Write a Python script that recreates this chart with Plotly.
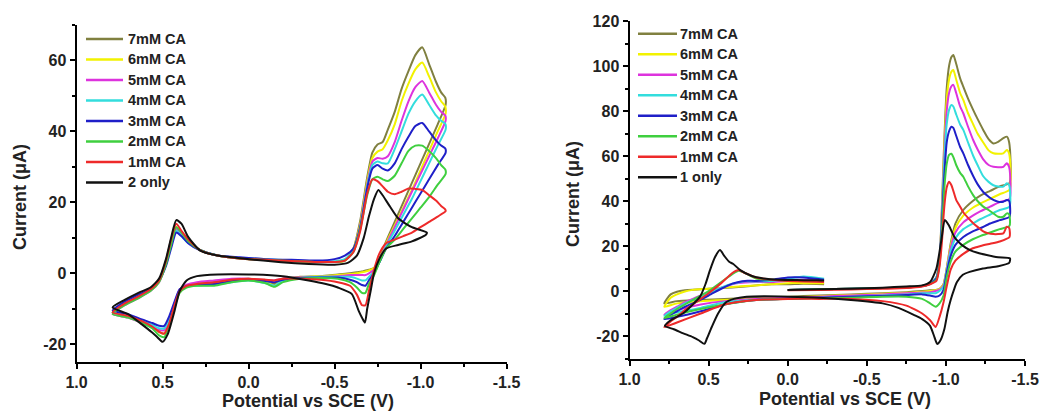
import plotly.graph_objects as go

# ---------------- Left panel: complex 2 with added CA ----------------
# Shared potential grid (V vs SCE) for the CA scans: forward sweep, then return sweep
LEFT_CA_E = [0.79, 0.72, 0.64, 0.57, 0.52, 0.48, 0.45, 0.42, 0.39, 0.35, 0.28, 0.18, 0.05, -0.10,
             -0.25, -0.40, -0.50, -0.56, -0.61, -0.65, -0.69, -0.72, -0.75, -0.78, -0.81, -0.85,
             -0.89, -0.93, -0.97, -1.01, -1.05, -1.09, -1.12, -1.144,
             -1.146, -1.10, -1.05, -1.00, -0.95, -0.90, -0.85, -0.80, -0.76, -0.73, -0.70, -0.68,
             -0.66, -0.63, -0.59, -0.52, -0.42, -0.30, -0.20, -0.15, -0.10, 0.00, 0.10, 0.20, 0.30,
             0.36, 0.40, 0.43, 0.46, 0.49, 0.52, 0.56, 0.62, 0.70, 0.79]

LEFT_7MM_I = [-11, -8.5, -6.5, -4.5, -2, 3, 8.5, 13, 11.5, 9, 6.5, 5, 4.2, 3.8, 3.5, 3.2, 3.2, 3.6,
              7, 15, 27, 34, 36.3, 37, 40.5, 45.5, 52, 57, 61.5, 63.7, 59, 54, 51, 49.5,
              47.5, 42, 36.5, 31, 25.5, 20, 14.5, 9, 4, 1.5, 1, 0.8, 0.5, 0.3, 0, -0.3, -0.8, -1,
              -1.5, -3, -2.5, -1.5, -2, -2.5, -3, -3.5, -5, -9, -14, -17, -16.5, -15, -13.5, -12, -11]
LEFT_6MM_I = [-11, -8.5, -6.5, -4.5, -2, 3, 8.5, 13, 11.5, 9, 6.5, 5, 4.2, 3.8, 3.5, 3.2, 3.2, 3.6,
              7, 14, 26, 32.5, 34.3, 35, 37.5, 42, 48.5, 53.5, 57.5, 59.4, 55.5, 51, 48.5, 47,
              45, 40, 34.5, 29, 23.5, 18.5, 13.5, 8.5, 3.5, 1.5, 0.8, 0.5, 0.3, 0, -0.2, -0.5, -0.8,
              -1.2, -1.8, -3.5, -2.5, -1.8, -2.2, -2.8, -3, -3.5, -5, -9, -14, -17, -16.5, -15,
              -13.5, -12, -11]
LEFT_5MM_I = [-11.5, -9, -7, -5, -2.5, 2.5, 8, 12.5, 11, 8.5, 6.5, 5, 4.2, 3.8, 3.5, 3.3, 3.3, 3.8,
              6.5, 13.5, 25, 31.5, 32.5, 32.3, 33, 37, 43, 48.5, 52.5, 54.2, 51, 47.5, 45.5, 44.5,
              43, 38, 33, 28, 23, 18, 13, 8, 3.5, 1, 0, -0.5, -0.5, -0.5, -0.5, -0.8, -1, -1.2,
              -1.5, -2, -2, -1.5, -1.5, -2, -2.5, -3.2, -4.5, -8.5, -13, -16, -16, -15, -14, -12.5,
              -11.5]
LEFT_4MM_I = [-11, -8.5, -6.5, -4.5, -2, 2.5, 8, 12, 10.5, 8.5, 6.5, 5, 4.3, 4, 3.6, 3.4, 3.4, 4,
              6.5, 13, 24.5, 30.5, 31.5, 31, 31, 35, 40, 45, 48.5, 50.4, 47.5, 44.5, 43, 42.2,
              40.5, 36, 31, 26, 21, 16.5, 12, 7.5, 3, 0.5, -1, -2, -2, -1.5, -1, -1, -1, -1.3, -2,
              -3.5, -2.8, -2, -2.5, -3.2, -3.5, -3.8, -5, -8.5, -13, -15.5, -15.5, -14.5, -13.5,
              -12, -11]
LEFT_3MM_I = [-10.5, -8, -6, -4.5, -2, 2, 7, 11.5, 10.5, 8.5, 6.5, 5, 4.5, 4, 3.8, 3.6, 4, 5,
              7, 13, 24, 29.5, 30.5, 29.5, 29, 31, 35, 38.5, 41.5, 42.4, 40, 37.5, 36, 35.2,
              34, 30.5, 26.5, 22.5, 18.5, 14.5, 10.5, 7, 3, 0, -2, -3.5, -3.3, -2.5, -1.8, -1.2,
              -1.2, -1.3, -1.8, -2.5, -2.2, -1.8, -2.2, -3, -3.2, -3.6, -4.5, -8, -12, -14.8,
              -14.8, -14, -13, -11.5, -10.5]
LEFT_2MM_I = [-11.5, -9, -7, -5, -2.5, 2.5, 8, 13, 11.5, 9, 6.5, 5, 4.2, 3.8, 3.5, 3.2, 3.2, 3.6,
              6, 12.5, 22, 26.5, 27.2, 26.5, 26, 27.5, 31, 34.5, 36, 36, 34.5, 32.5, 30.5, 29.3,
              28, 25, 21.5, 18.5, 15.5, 12.5, 9.5, 7, 3, -0.5, -3, -5.5, -5.5, -4, -2.5, -1.5,
              -1.3, -1.5, -2.5, -3.8, -2.8, -2, -2.5, -3.5, -3.5, -4, -5.5, -9.5, -14.5, -18,
              -17.5, -15.5, -14, -12.5, -11.5]
LEFT_1MM_I = [-11, -8.5, -6.5, -4.5, -2, 3.5, 9.5, 14, 12, 9.5, 6.5, 5, 4.2, 3.8, 3.5, 3.2, 3.2,
              3.6, 6, 12, 22.5, 26.5, 26, 24.5, 23, 22.3, 23, 23.9, 23.8, 23.5, 22, 20.5, 19, 18,
              17.5, 16, 14.5, 13, 11.5, 10.5, 9.5, 8.5, 5.5, 1, -5, -9, -9, -6, -3.5, -2.5, -1.8,
              -1.5, -1.5, -2, -1.8, -1.5, -1.8, -2.5, -3, -3.5, -5, -9, -14, -17, -16.5, -15,
              -13.5, -12, -11]

# Complex 2 alone (switched at a less negative potential)
LEFT_ONLY_E = [0.79, 0.72, 0.64, 0.57, 0.52, 0.48, 0.45, 0.42, 0.39, 0.35, 0.28, 0.18, 0.02,
               -0.19, -0.35, -0.50, -0.58, -0.63, -0.67, -0.70, -0.73, -0.755, -0.78, -0.82,
               -0.87, -0.95, -1.037,
               -1.03, -0.95, -0.87, -0.80, -0.76, -0.73, -0.71, -0.69, -0.677, -0.66, -0.64,
               -0.60, -0.52, -0.45, -0.35, -0.20, 0.00, 0.18, 0.30, 0.36, 0.40, 0.43, 0.47, 0.50,
               0.53, 0.56, 0.62, 0.70, 0.79]
LEFT_ONLY_I = [-9.6, -7.5, -5.5, -4, -1.5, 4, 10, 15, 14, 10.2, 6.4, 5, 4.1, 3.1, 2.6, 2.4, 3, 5,
               10, 16, 21, 23.5, 22, 19, 15.5, 13, 11.5,
               10.8, 9, 8, 7, 4, 0, -5, -10, -13.9, -12.5, -10.5, -5.8, -4, -3, -2, -0.8, -0.3,
               -0.3, -0.8, -2, -5, -10.6, -17.2, -19.3, -18, -16.7, -14.4, -11.5, -9.6]

# ---------------- Right panel: complex 1 with added CA ----------------
# Scan starts at 0.0 V, goes to -1.4 V, back to 0.78 V and ends near -0.23 V
RIGHT_CA_E = [0.00, -0.20, -0.40, -0.60, -0.75, -0.85, -0.90, -0.94, -0.96, -0.975, -0.985,
              -0.995, -1.005, -1.02, -1.035, -1.047, -1.065, -1.09, -1.11, -1.14, -1.173, -1.20,
              -1.236, -1.27, -1.30, -1.33, -1.363, -1.385, -1.40,
              -1.402, -1.34, -1.28, -1.22, -1.17, -1.11, -1.06, -1.03, -1.005, -0.985, -0.96,
              -0.935, -0.90, -0.85, -0.75, -0.60, -0.40, -0.20, 0.00, 0.20, 0.40, 0.55, 0.70, 0.78,
              0.74, 0.70, 0.65, 0.60, 0.50, 0.42, 0.35, 0.31, 0.27, 0.20, 0.10, 0.00, -0.10, -0.23]

RIGHT_7MM_I = [0.5, 0.8, 1.0, 1.3, 1.6, 2.2, 3.2, 6, 14, 38, 58, 76, 90, 100, 104, 104.9, 101, 94.5,
               90.8, 85.5, 80.4, 76.5, 71.6, 67.5, 65.6, 66.3, 67.9, 68.6, 66,
               48, 46.5, 44.5, 42.5, 40, 36, 30, 21, 10, 3, 1, 0.5, 0.3, 0, -0.5, -1, -1.5, -2,
               -2.5, -3, -3.5, -4, -4.5, -5.5,
               -1.5, -0.3, 0.3, 0.6, 1.0, 1.3, 1.6, 1.8, 2.0, 2.5, 3.0, 3.0, 3.2, 3.0]
RIGHT_6MM_I = [0.5, 0.8, 1.0, 1.3, 1.6, 2.2, 3.2, 6, 14, 36, 55, 72, 85, 94, 97.5, 98.2, 94, 88,
               84.9, 79, 74, 70, 66, 62.5, 61.2, 61, 61.2, 62.7, 61,
               45, 43, 41, 39, 37, 33.5, 28, 20, 10, 3, 0.8, 0.3, 0, -0.3, -0.8, -1.2, -1.8, -2.3,
               -3, -3.5, -4, -4.5, -5.5, -7,
               -3, -1.5, -0.2, 0.5, 1.0, 1.5, 1.8, 2.0, 2.2, 2.5, 3.0, 3.5, 3.5, 3.5]
RIGHT_5MM_I = [0.5, 0.8, 1.0, 1.3, 1.6, 2.2, 3.2, 6, 14, 35, 52, 68, 80, 88, 91, 91.6, 88, 82, 79,
               73, 67, 63, 58.5, 56, 55.2, 55, 55.2, 56.8, 55,
               41, 39.5, 37.5, 35.5, 33.5, 30.5, 26, 19, 9.5, 2.5, 0.5, 0, -0.5, -0.7, -1, -1.5,
               -2, -2.5, -3, -3.5, -4.5, -6, -8.5, -10.5,
               -8.5, -7, -5, -3.5, -0.5, 1.5, 3.0, 3.5, 3.8, 4.0, 4.0, 4.5, 5.0, 4.5]
RIGHT_4MM_I = [0.5, 0.8, 1.0, 1.3, 1.6, 2.2, 3.2, 6, 14, 33, 50, 64, 74, 80.5, 82.7, 82, 78.5, 74,
               71.6, 66, 60, 56, 51, 48.5, 47, 46.4, 46.4, 47.9, 47,
               37.5, 36, 34, 32, 30, 27.5, 23.5, 17.5, 9, 2, 0, -1, -1, -1, -1.5, -2, -2.5, -3,
               -3.5, -4, -5, -7.5, -9.5, -11,
               -9, -7.5, -5.5, -4, -1, 1.5, 3.2, 3.8, 4.3, 4.2, 4.5, 5.5, 6.5, 5.5]
RIGHT_3MM_I = [0.5, 0.8, 1.0, 1.3, 1.6, 2.2, 3.2, 5.5, 13, 30, 45, 57, 66, 71, 73, 72.5, 69, 64,
               61.2, 56, 51, 47.5, 44, 41.9, 40.5, 39.7, 39.7, 40.4, 40,
               33, 31.5, 30, 28, 26.5, 24, 20.5, 15.5, 8, 0.5, -2, -2.5, -2, -1.5, -1.8, -2.2, -2.5,
               -3, -3.5, -4, -6, -9, -11.5, -12.5,
               -10.5, -9, -7, -5.5, -2, 1.0, 3.3, 4.0, 4.5, 4.5, 5.0, 6.0, 6.0, 5.0]
RIGHT_2MM_I = [0.5, 0.8, 1.0, 1.3, 1.6, 2.2, 3.2, 5, 12, 27, 40, 50, 56.5, 60.5, 61, 59.5, 56, 52.5,
               50.8, 46.5, 42.5, 40, 37.5, 36, 34.5, 33, 33, 34.5, 34,
               29, 27.5, 26, 24.5, 23, 20.5, 17.5, 13, 6, -2, -5.5, -7, -5.5, -3.5, -2.5, -2.5, -3,
               -3.2, -3.5, -4, -6, -8, -10.5, -12,
               -10, -8, -6, -4, 0, 4.0, 7.5, 9.0, 8.0, 5.5, 5.0, 4.5, 4.5, 4.5]
RIGHT_1MM_I = [0.3, 0.5, 0.7, 1.0, 1.3, 2.0, 3.0, 4.5, 11, 22, 33, 41, 46, 48.6, 47, 44.5, 40.5,
               37.5, 35, 32.5, 30.1, 28.5, 26.5, 25.6, 25.3, 25.3, 25.6, 28.6, 28,
               24, 22, 21, 20, 19, 16.5, 13.5, 9.5, 2, -5, -11.5, -16, -13, -10, -6.5, -4.5, -3.5,
               -3.5, -3.5, -4, -6, -10, -14, -16,
               -13.5, -11.5, -8.5, -6, -1, 3.5, 8.0, 9.3, 8.0, 6.0, 5.0, 4.5, 4.2, 4.0]

# Complex 1 alone
RIGHT_ONLY_E = [0.00, -0.20, -0.40, -0.60, -0.75, -0.85, -0.90, -0.94, -0.97, -0.994, -1.02, -1.05,
                -1.068, -1.10, -1.152, -1.20, -1.258, -1.33, -1.405,
                -1.40, -1.33, -1.234, -1.15, -1.107, -1.07, -1.054, -1.03, -1.011, -0.99, -0.965,
                -0.945, -0.925, -0.90, -0.85, -0.80, -0.70, -0.60, -0.40, -0.20, 0.00, 0.15, 0.26,
                0.34, 0.39, 0.44, 0.48, 0.51, 0.527, 0.56, 0.60, 0.66, 0.72, 0.776,
                0.74, 0.66, 0.60, 0.554, 0.52, 0.491, 0.46, 0.428, 0.40, 0.37, 0.344, 0.30, 0.23,
                0.154, 0.05, -0.015, -0.10, -0.183, -0.23]
RIGHT_ONLY_I = [0.5, 0.8, 1.0, 1.5, 2.0, 2.5, 4, 10, 22, 31.6, 29, 24.5, 22.7, 20.5, 18.2, 17, 16,
                15, 14.5,
                12.5, 11, 10, 8.5, 7.2, 4, 1.2, -4, -9.3, -17, -22, -23.5, -20, -15.5, -12.5,
                -10.7, -7.5, -5.5, -4, -3, -2.5, -2.3, -2.5, -3.5, -5, -10, -16, -21, -23.5, -22,
                -20.5, -18.8, -17, -15.5,
                -13, -9.9, -6, -2.5, 3, 9.3, 15, 18.2, 15.5, 13, 12, 9.3, 6.8, 5.6, 5, 4.9, 4.8,
                4.8, 4.7]

# ---------------- Labels, colours and ticks ----------------
CA_NAMES = ["7mM CA", "6mM CA", "5mM CA", "4mM CA", "3mM CA", "2mM CA", "1mM CA"]
LEFT_ONLY_NAME = "2 only"
RIGHT_ONLY_NAME = "1 only"
CA_COLORS = ["#808040", "#F2F200", "#DD33DD", "#33DDDD", "#1F1FC8", "#3FCF3F", "#EE2A2A"]
ONLY_COLOR = "#111111"

X_TICKS = [1.0, 0.5, 0.0, -0.5, -1.0, -1.5]
X_TICK_TEXT = ["1.0", "0.5", "0.0", "-0.5", "-1.0", "-1.5"]
LEFT_Y_TICKS = [-20, 0, 20, 40, 60]
RIGHT_Y_TICKS = [-20, 0, 20, 40, 60, 80, 100, 120]

X_TITLE = "Potential vs SCE (V)"
Y_TITLE = "Current (μA)"

FONT = "Liberation Sans, Arial, Helvetica, sans-serif"
TEXT_COLOR = "#222222"
W, H = 1059, 415


def bold(s):
    return f"<b>{s}</b>"


def px_x(p):
    return p / W


def px_y(p):
    return (H - p) / H


left_ca = [LEFT_7MM_I, LEFT_6MM_I, LEFT_5MM_I, LEFT_4MM_I, LEFT_3MM_I, LEFT_2MM_I, LEFT_1MM_I]
right_ca = [RIGHT_7MM_I, RIGHT_6MM_I, RIGHT_5MM_I, RIGHT_4MM_I, RIGHT_3MM_I, RIGHT_2MM_I,
            RIGHT_1MM_I]

fig = go.Figure()


def line_style(color):
    return dict(color=color, width=2, shape="spline", smoothing=0.6)


left_series = [(n, c, LEFT_CA_E, i) for n, c, i in zip(CA_NAMES, CA_COLORS, left_ca)]
left_series.append((LEFT_ONLY_NAME, ONLY_COLOR, LEFT_ONLY_E, LEFT_ONLY_I))
right_series = [(n, c, RIGHT_CA_E, i) for n, c, i in zip(CA_NAMES, CA_COLORS, right_ca)]
right_series.append((RIGHT_ONLY_NAME, ONLY_COLOR, RIGHT_ONLY_E, RIGHT_ONLY_I))

for series, xa, ya in [(left_series, "x", "y"), (right_series, "x2", "y2")]:
    for name, color, e, cur in series:
        fig.add_trace(go.Scatter(x=e, y=cur, mode="lines", name=name, line=line_style(color),
                                 xaxis=xa, yaxis=ya, showlegend=False, hoverinfo="skip"))

# In-plot keys: a short coloured line with its label, one row per scan
key_font = dict(family=FONT, size=14.5, color=TEXT_COLOR)
for series, top, x0, x1, xt in [(left_series, 38.9, 86, 123, 126.5),
                                (right_series, 33.7, 638, 677, 678.5)]:
    for k, (name, color, _, _) in enumerate(series):
        yk = top + 20.5 * k
        fig.add_shape(type="line", xref="paper", yref="paper", x0=px_x(x0), x1=px_x(x1),
                      y0=px_y(yk), y1=px_y(yk), line=dict(color=color, width=2.5))
        fig.add_annotation(text=bold(name), x=px_x(xt), y=px_y(yk), xref="paper", yref="paper",
                           showarrow=False, font=key_font, xanchor="left", yanchor="middle",
                           borderpad=0)

tick_font = dict(family=FONT, size=16, color=TEXT_COLOR)


def axis_common(minor_step):
    return dict(showline=True, linecolor="black", linewidth=2, mirror=False,
                ticks="outside", ticklen=5, tickwidth=1.5, tickcolor="black",
                showgrid=False, zeroline=False, tickfont=tick_font, automargin=False,
                minor=dict(ticks="outside", ticklen=3, tickwidth=1.5, tickcolor="black",
                           tickmode="linear", tick0=0, dtick=minor_step, showgrid=False))


x_text = [bold(t) for t in X_TICK_TEXT]

fig.update_layout(
    width=W, height=H, margin=dict(l=0, r=0, t=0, b=0),
    paper_bgcolor="white", plot_bgcolor="white", showlegend=False,
    xaxis=dict(domain=[px_x(76.5), px_x(506.5)], range=[1.0, -1.5], anchor="y",
               tickmode="array", tickvals=X_TICKS, ticktext=x_text, **axis_common(0.25)),
    yaxis=dict(domain=[px_y(362), px_y(25)], range=[-25, 70], anchor="x",
               tickmode="array", tickvals=LEFT_Y_TICKS,
               ticktext=[bold(v) for v in LEFT_Y_TICKS], **axis_common(10)),
    xaxis2=dict(domain=[px_x(629.5), px_x(1025)], range=[1.0, -1.5], anchor="y2",
                tickmode="array", tickvals=X_TICKS, ticktext=x_text, **axis_common(0.25)),
    yaxis2=dict(domain=[px_y(358.5), px_y(21)], range=[-30, 120], anchor="x2",
                tickmode="array", tickvals=RIGHT_Y_TICKS,
                ticktext=[bold(v) for v in RIGHT_Y_TICKS], **axis_common(10)),
)

title_font = dict(family=FONT, size=18, color=TEXT_COLOR)
for x, y in [(20, 197), (573, 194)]:
    fig.add_annotation(text=bold(Y_TITLE), x=px_x(x), y=px_y(y), xref="paper", yref="paper",
                       showarrow=False, textangle=-90, font=title_font,
                       xanchor="center", yanchor="middle")
for x, y in [(307.5, 401), (845, 399)]:
    fig.add_annotation(text=bold(X_TITLE), x=px_x(x), y=px_y(y), xref="paper", yref="paper",
                       showarrow=False, font=title_font, xanchor="center", yanchor="middle")

fig.write_html("out.html")
